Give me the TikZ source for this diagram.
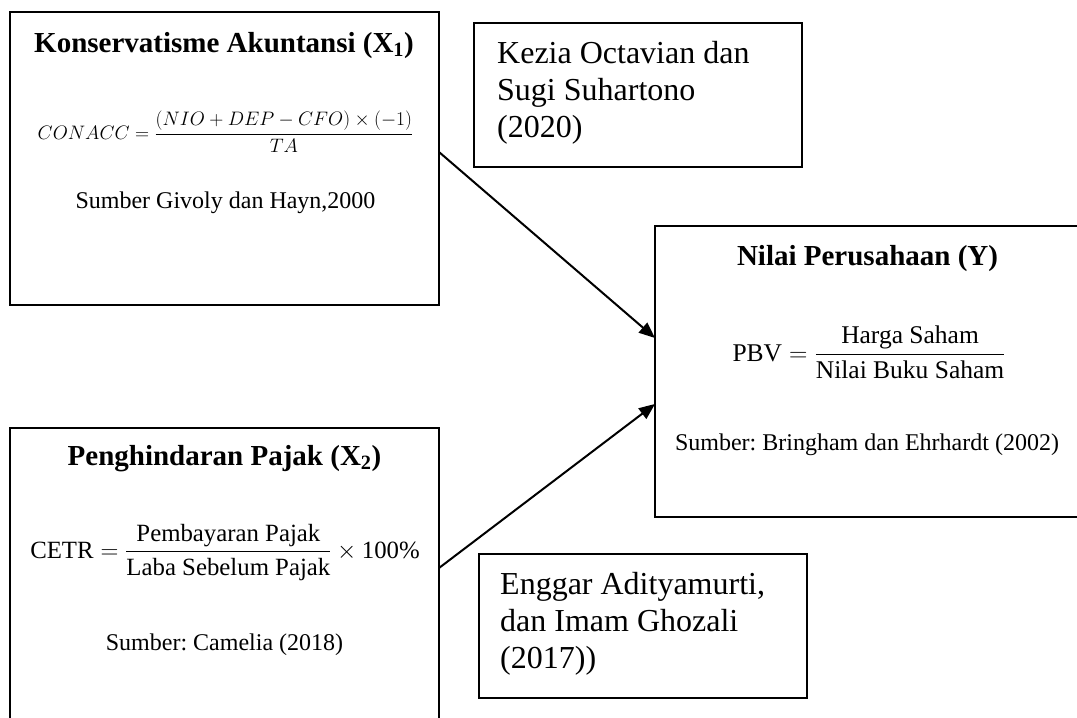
\RequirePackage{fix-cm}
\documentclass[tikz,border=0pt]{standalone}
\usepackage{amsmath}
\usepackage{fontspec}
\setmainfont{Liberation Serif}
\usetikzlibrary{arrows.meta}
\frenchspacing

\tikzset{
  bigbox/.style={draw, line width=2.1pt, rectangle, inner sep=0pt, outer sep=0pt},
  refbox/.style={draw, line width=1.8pt, rectangle, inner sep=0pt, outer sep=0pt},
  link/.style={line width=2pt, -{Triangle[length=16pt,width=13pt]}},
  ttl/.style={font=\fontsize{29}{34}\selectfont\bfseries, anchor=base, inner sep=0pt},
  src/.style={font=\fontsize{24}{28}\selectfont, anchor=base, inner sep=0pt},
  frm/.style={font=\fontsize{25.5}{30}\selectfont, anchor=base, inner sep=0pt},
  frmmid/.style={font=\fontsize{24.8}{30}\selectfont, anchor=base, inner sep=0pt},
  frmsmall/.style={font=\fontsize{19.5}{24}\selectfont, anchor=base, inner sep=0pt},
  reftext/.style={font=\fontsize{32}{37}\selectfont, anchor=base west, align=left, inner sep=0pt},
}

\begin{document}
\begin{tikzpicture}[x=1pt,y=-1pt]
\useasboundingbox (0,0) rectangle (1077,718);
\clip (0,0) rectangle (1077,718);

% boxes
\node[bigbox, minimum width=429pt, minimum height=293pt] (x1) at (224.5,158.5) {};
\node[bigbox, minimum width=429pt, minimum height=302pt] (x2) at (224.5,579) {};
\node[bigbox, minimum width=435pt, minimum height=291pt] (y) at (872.5,371.5) {};
\node[refbox, minimum width=328pt, minimum height=144pt] (r1) at (638,95) {};
\node[refbox, minimum width=328pt, minimum height=144pt] (r2) at (643,626) {};

% X1 content
\node[ttl] (t1) at (224,52) {Konservatisme Akuntansi (X\textsubscript{1})};
\node[frmsmall] (f1) at (225.5,139) {$CONACC=\dfrac{(NIO+DEP-CFO)\times(-1)}{TA}$};
\node[src] (s1) at (225.5,208) {Sumber Givoly dan Hayn,2000};

% X2 content
\node[ttl] (t2) at (224.5,465) {Penghindaran Pajak (X\textsubscript{2})};
\node[frmmid] (f2) at (225,558) {$\text{CETR}=\dfrac{\text{Pembayaran Pajak}}{\text{Laba Sebelum Pajak}}\times\text{100\%}$};
\node[src] (s2) at (224.5,650) {Sumber: Camelia (2018)};

% Y content
\node[ttl] (t3) at (867.5,265) {Nilai Perusahaan (Y)};
\node[frm] (f3) at (869,361) {$\text{PBV}=\dfrac{\text{Harga Saham}}{\text{Nilai Buku Saham}}$};
\node[src] (s3) at (867,450) {Sumber: Bringham dan Ehrhardt (2002)};

% references
\node[reftext] (k1) at (497,137) {Kezia Octavian dan\\Sugi Suhartono\\(2020)};
\node[reftext] (k2) at (500,668) {Enggar Adityamurti,\\dan Imam Ghozali\\(2017))};

% arrows
\draw[link] ([yshift=6.5pt]x1.east) -- ([yshift=33.5pt]y.west);
\draw[link] ([yshift=11pt]x2.east) -- ([yshift=-32.5pt]y.west);
\end{tikzpicture}
\end{document}
